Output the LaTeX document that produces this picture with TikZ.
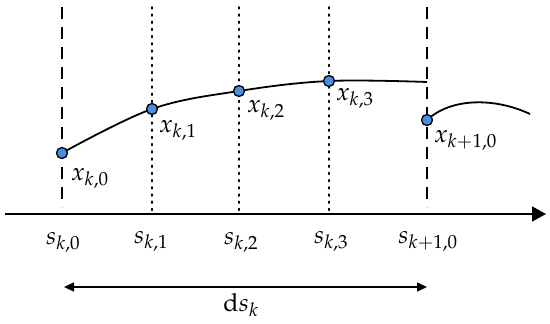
\documentclass[tikz,border=0pt]{standalone}
\usepackage{mathpazo}
\usetikzlibrary{arrows.meta}
\definecolor{dotblue}{RGB}{72,142,226}
\tikzset{
  sep/.style={line width=1.7pt, dash pattern=on 12pt off 8pt},
  sub/.style={line width=1.7pt, dash pattern=on 1.7pt off 5.5pt, line cap=round},
  pt/.style={circle, draw=black, line width=1.3pt, fill=dotblue, minimum size=11pt, inner sep=0pt},
  curve/.style={line width=1.8pt},
  lbl/.style={anchor=base west, inner sep=0pt, font=\fontsize{25}{30}\selectfont},
  slbl/.style={anchor=base, inner sep=0pt, font=\fontsize{25}{30}\selectfont},
}
\begin{document}
\begin{tikzpicture}[x=1pt,y=-1pt]
\useasboundingbox (0,0) rectangle (550,324);
% axis
\coordinate (a0) at (5,214);
\coordinate (a1) at (546,214);
% vertical lines
\coordinate (t0) at (62,7);  \coordinate (b0) at (62,207);
\coordinate (t1) at (152,7); \coordinate (b1) at (152,211);
\coordinate (t2) at (239,7); \coordinate (b2) at (239,211);
\coordinate (t3) at (329,7); \coordinate (b3) at (329,211);
\coordinate (t4) at (427,7); \coordinate (b4) at (427,207);
\draw[sep] (t0) -- (b0);
\draw[sub] (t1) -- (b1);
\draw[sub] (t2) -- (b2);
\draw[sub] (t3) -- (b3);
\draw[sep] (t4) -- (b4);
% curve
\coordinate (e) at (427,82);
\coordinate (p0c) at (62,153);
\coordinate (p1c) at (152,109);
\coordinate (p2c) at (239,91);
\coordinate (p3c) at (329,81);
\draw[curve] plot[smooth, tension=0.6] coordinates {(p0c) (p1c) (p2c) (p3c) (e)};
\coordinate (q0c) at (427,120);
\coordinate (q1) at (530,114);
\draw[curve] (q0c) .. controls (452,97) and (496,98) .. (q1);
% points
\node[pt] (p0) at (p0c) {};
\node[pt] (p1) at (p1c) {};
\node[pt] (p2) at (p2c) {};
\node[pt] (p3) at (p3c) {};
\node[pt] (q0) at (q0c) {};
% point labels
\node[lbl] (l0) at (71,180) {$x_{k,0}$};
\node[lbl] (l1) at (159,132) {$x_{k,1}$};
\node[lbl] (l2) at (247,112) {$x_{k,2}$};
\node[lbl] (l3) at (336,100) {$x_{k,3}$};
\node[lbl] (l4) at (434,142) {$x_{k+1,0}$};
% axis arrow
\draw[line width=1.7pt, -{Triangle[length=14pt,width=15pt]}] (a0) -- (a1);
% s labels
\node[slbl] (s0) at (63,244) {$s_{k,0}$};
\node[slbl] (s1) at (151,243) {$s_{k,1}$};
\node[slbl] (s2) at (241,244) {$s_{k,2}$};
\node[slbl] (s3) at (331,243) {$s_{k,3}$};
\node[slbl] (s4) at (428,243) {$s_{k+1,0}$};
% ds arrow
\coordinate (d0) at (64,287);
\coordinate (d1) at (427,287);
\draw[line width=1.5pt, {Triangle[length=10pt,width=9pt]}-{Triangle[length=10pt,width=9pt]}] (d0) -- (d1);
\node[slbl] (ds) at (241,311) {$\mathrm{d}s_k$};
\end{tikzpicture}
\end{document}
